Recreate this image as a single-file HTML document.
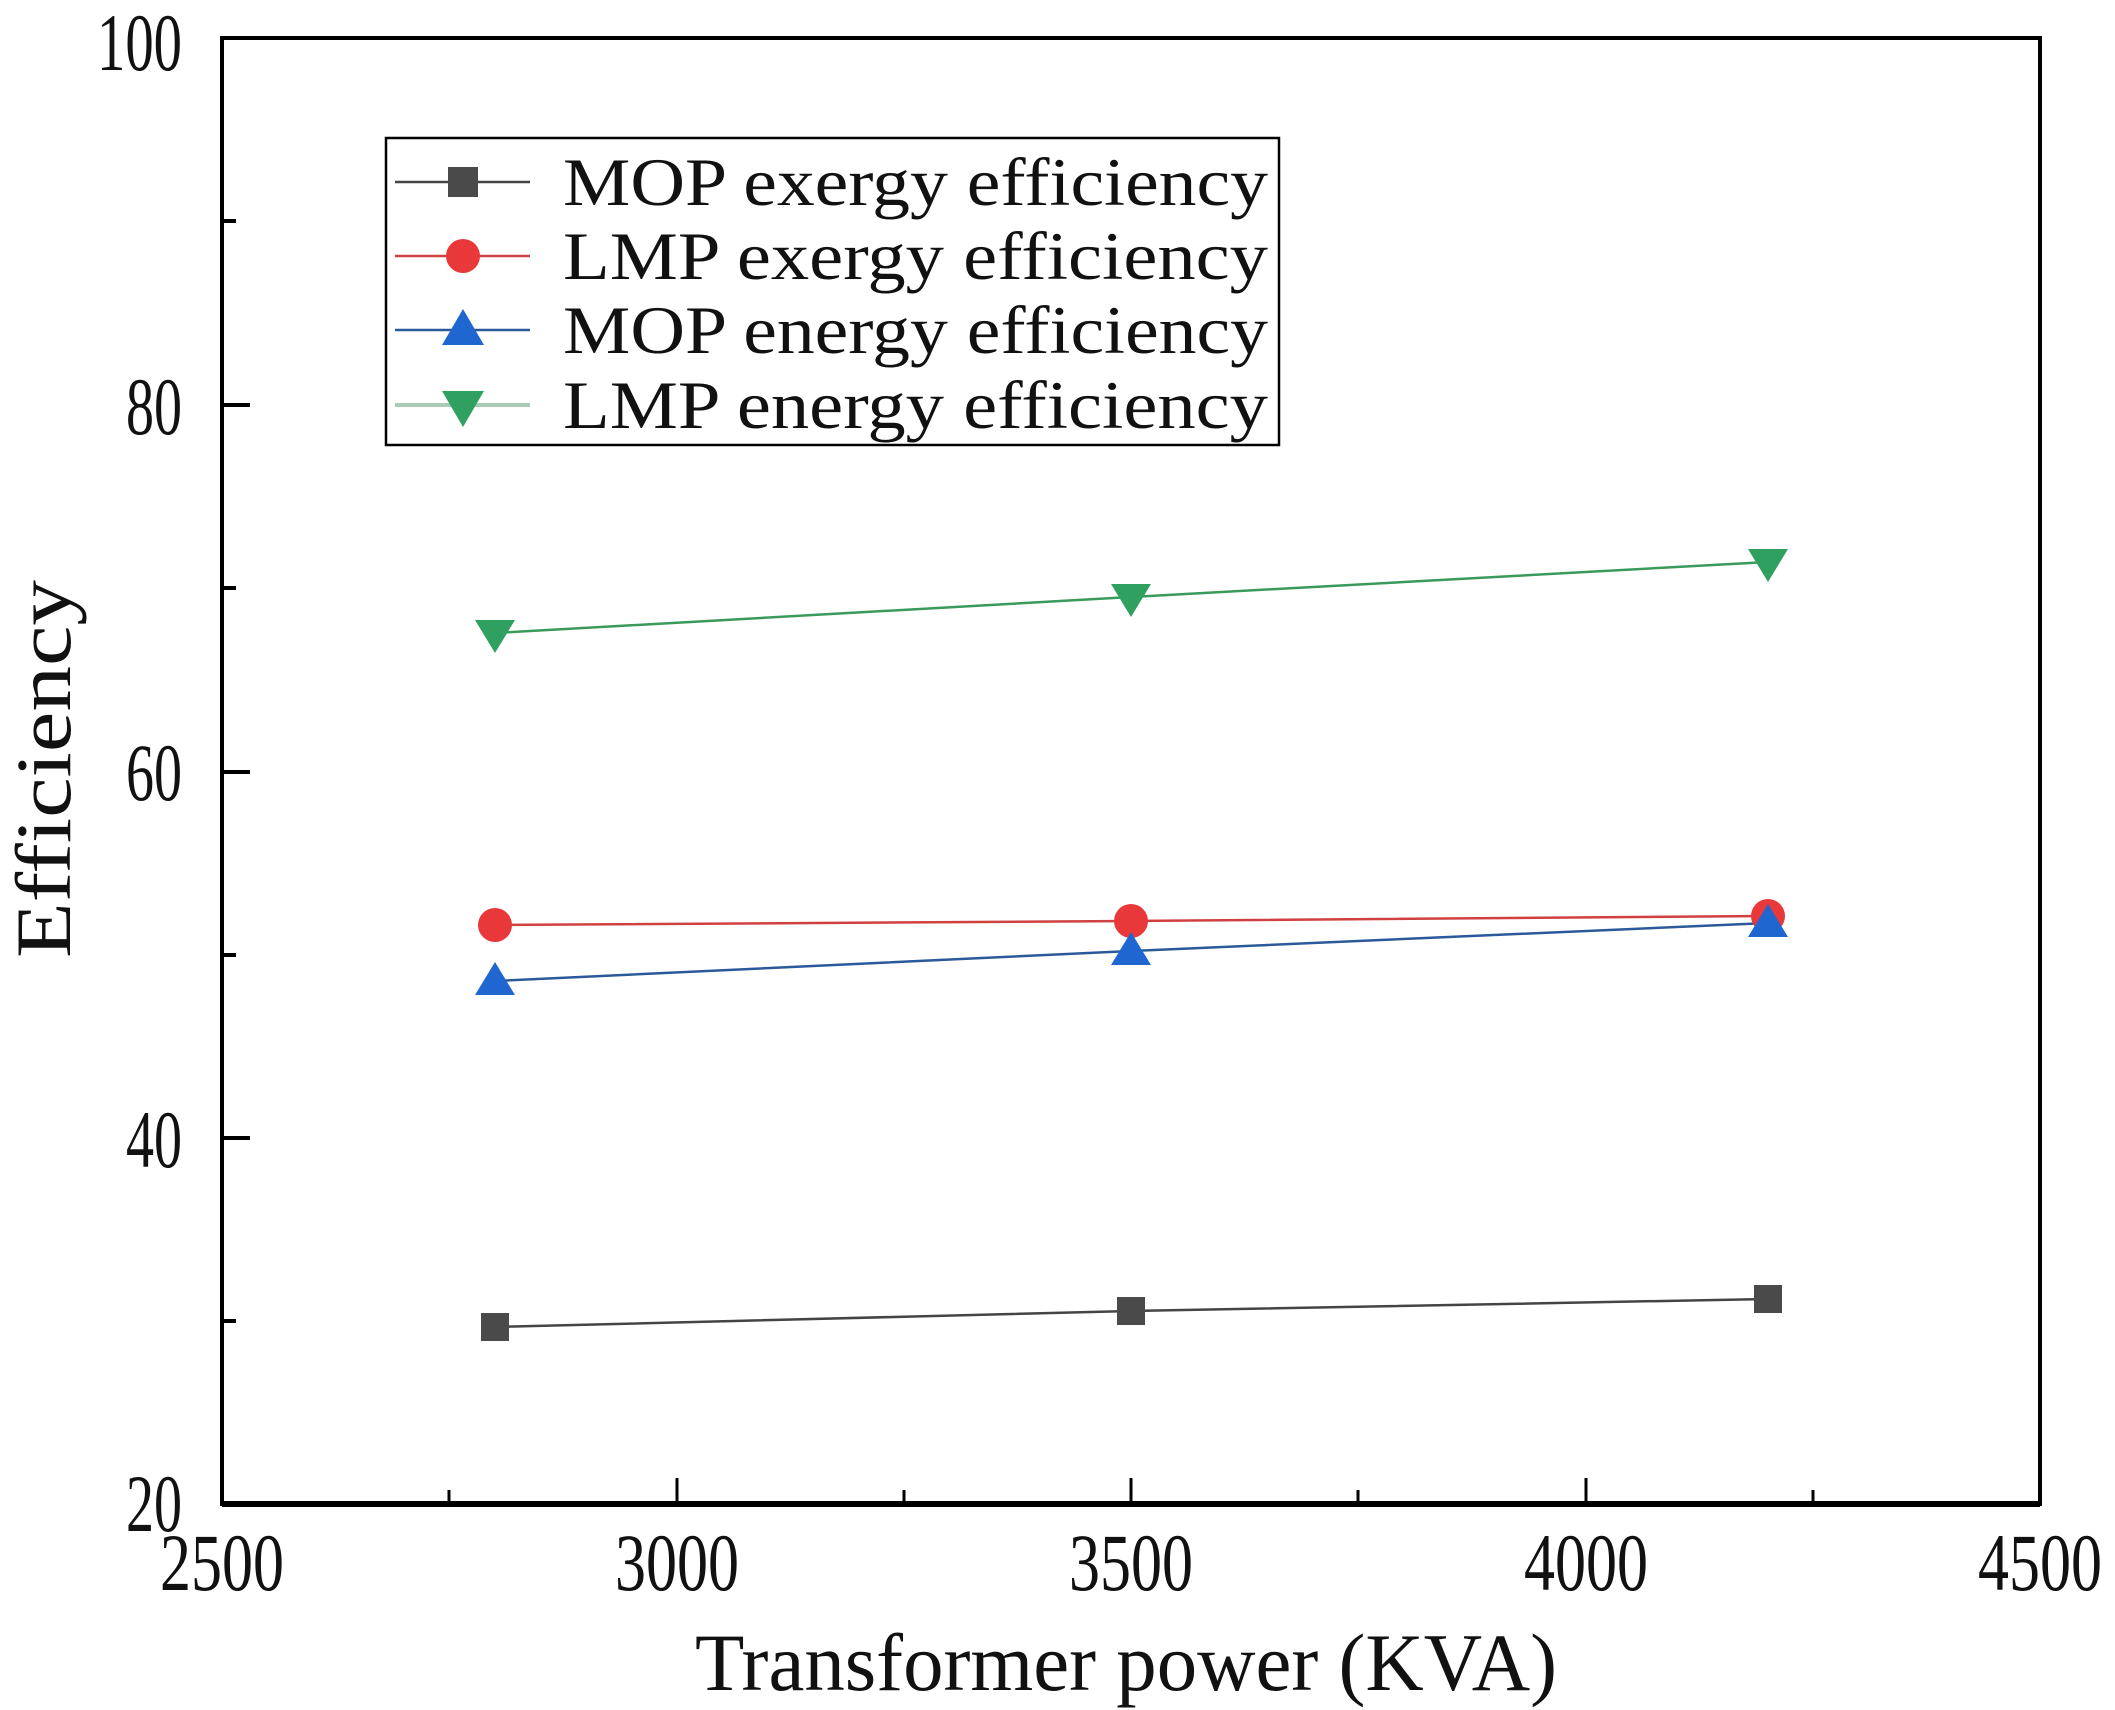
<!DOCTYPE html>
<html><head><meta charset="utf-8"><style>
html,body{margin:0;padding:0;background:#fff;}
svg{display:block;}
text{font-family:"Liberation Serif",serif;fill:#111;}
</style></head><body>
<svg width="2115" height="1710" viewBox="0 0 2115 1710" xmlns="http://www.w3.org/2000/svg">
<rect width="2115" height="1710" fill="#fff"/>
<rect x="222" y="38" width="1818" height="1466" fill="none" stroke="#000" stroke-width="4"/>
<line x1="222" y1="1504" x2="2040" y2="1504" stroke="#000" stroke-width="6"/>
<g stroke="#000" stroke-width="4">
<line x1="222" y1="405" x2="250" y2="405"/>
<line x1="222" y1="772" x2="250" y2="772"/>
<line x1="222" y1="1138" x2="250" y2="1138"/>
<line x1="222" y1="221" x2="236" y2="221"/>
<line x1="222" y1="588" x2="236" y2="588"/>
<line x1="222" y1="955" x2="236" y2="955"/>
<line x1="222" y1="1321" x2="236" y2="1321"/>
</g>
<g stroke="#000" stroke-width="3">
<line x1="677" y1="1504" x2="677" y2="1478"/>
<line x1="1131" y1="1504" x2="1131" y2="1478"/>
<line x1="1586" y1="1504" x2="1586" y2="1478"/>
<line x1="449" y1="1504" x2="449" y2="1490"/>
<line x1="904" y1="1504" x2="904" y2="1490"/>
<line x1="1358" y1="1504" x2="1358" y2="1490"/>
<line x1="1813" y1="1504" x2="1813" y2="1490"/>
</g>
<g font-size="82" lengthAdjust="spacingAndGlyphs">
<text x="97" y="70" textLength="85" lengthAdjust="spacingAndGlyphs">100</text>
<text x="126" y="434" textLength="56" lengthAdjust="spacingAndGlyphs">80</text>
<text x="126" y="800" textLength="56" lengthAdjust="spacingAndGlyphs">60</text>
<text x="126" y="1167" textLength="56" lengthAdjust="spacingAndGlyphs">40</text>
<text x="126" y="1531" textLength="56" lengthAdjust="spacingAndGlyphs">20</text>
<text x="160" y="1590" textLength="124" lengthAdjust="spacingAndGlyphs">2500</text>
<text x="615" y="1590" textLength="124" lengthAdjust="spacingAndGlyphs">3000</text>
<text x="1069" y="1590" textLength="124" lengthAdjust="spacingAndGlyphs">3500</text>
<text x="1524" y="1590" textLength="124" lengthAdjust="spacingAndGlyphs">4000</text>
<text x="1978" y="1590" textLength="124" lengthAdjust="spacingAndGlyphs">4500</text>
</g>
<text x="695" y="1690" font-size="82" textLength="862" lengthAdjust="spacingAndGlyphs">Transformer power (KVA)</text>
<text transform="translate(70,769) rotate(-90)" font-size="78" text-anchor="middle" textLength="378" lengthAdjust="spacingAndGlyphs">Efficiency</text>

<polyline points="495,1327 1131,1311 1768,1299" fill="none" stroke="#444" stroke-width="2.5"/>
<polyline points="495,925 1131,921 1768,916" fill="none" stroke="#d04040" stroke-width="2.5"/>
<polyline points="495,981 1131,951 1768,923" fill="none" stroke="#2b5a9a" stroke-width="2.5"/>
<polyline points="495,633 1131,597 1768,562" fill="none" stroke="#3a9a5c" stroke-width="2.5"/>

<g fill="#4a4a4a">
<rect x="481" y="1313" width="28" height="28"/>
<rect x="1117" y="1297" width="28" height="28"/>
<rect x="1754" y="1285" width="28" height="28"/>
</g>
<g fill="#e8383a">
<circle cx="495" cy="925" r="17"/>
<circle cx="1131" cy="921" r="17"/>
<circle cx="1768" cy="916" r="17"/>
</g>
<g fill="#1f66d0">
<polygon points="495,962 515,995 475,995"/>
<polygon points="1131,932 1151,965 1111,965"/>
<polygon points="1768,904 1788,937 1748,937"/>
</g>
<g fill="#30a060">
<polygon points="475,620 515,620 495,653"/>
<polygon points="1111,584 1151,584 1131,617"/>
<polygon points="1748,549 1788,549 1768,582"/>
</g>

<rect x="386" y="138" width="893" height="307" fill="#fff" stroke="#000" stroke-width="2.5"/>
<line x1="395" y1="182" x2="530" y2="182" stroke="#444" stroke-width="2.5"/>
<rect x="448" y="167" width="30" height="30" fill="#4a4a4a"/>
<line x1="395" y1="256" x2="530" y2="256" stroke="#d04040" stroke-width="2.5"/>
<circle cx="463" cy="256" r="17" fill="#e8383a"/>
<line x1="395" y1="330" x2="530" y2="330" stroke="#2b5a9a" stroke-width="2.5"/>
<polygon points="463,309 484,345 442,345" fill="#1f66d0"/>
<line x1="395" y1="405" x2="530" y2="405" stroke="#a8cdb4" stroke-width="4"/>
<polygon points="442,391 484,391 463,427" fill="#30a060"/>
<g font-size="68">
<text x="563" y="205" textLength="705" lengthAdjust="spacingAndGlyphs">MOP exergy efficiency</text>
<text x="563" y="279" textLength="705" lengthAdjust="spacingAndGlyphs">LMP exergy efficiency</text>
<text x="563" y="353" textLength="705" lengthAdjust="spacingAndGlyphs">MOP energy efficiency</text>
<text x="563" y="428" textLength="705" lengthAdjust="spacingAndGlyphs">LMP energy efficiency</text>
</g>
</svg>
</body></html>
